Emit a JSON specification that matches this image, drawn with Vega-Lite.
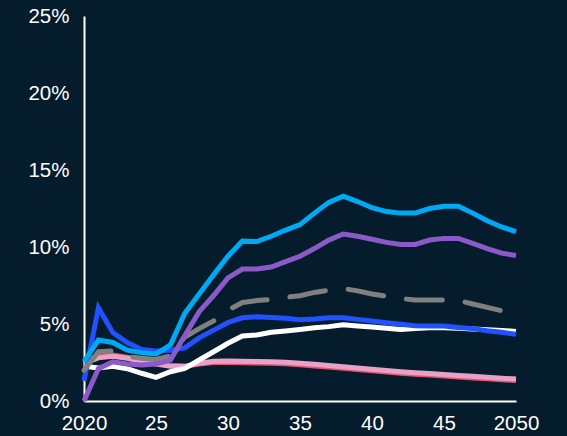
{
  "$schema": "https://vega.github.io/schema/vega-lite/v6.json",
  "autosize": "none",
  "width": 432,
  "height": 385,
  "padding": {"left": 84, "top": 16, "right": 51, "bottom": 35},
  "background": "#051c2c",
  "config": {
    "view": {"stroke": null},
    "axis": {
      "domainColor": "#ffffff",
      "domainWidth": 2,
      "ticks": false,
      "grid": false,
      "labelColor": "#ffffff",
      "labelFont": "Liberation Sans",
      "labelFontSize": 20.5,
      "labelFlush": false,
      "labelOverlap": false,
      "labelBound": false,
      "title": null
    }
  },
  "data": {
    "values": [
      {"series": "1red", "year": 2020, "value": 2.6}, {"series": "1red", "year": 2021, "value": 2.9}, {"series": "1red", "year": 2022, "value": 2.98}, {"series": "1red", "year": 2023, "value": 2.85}, {"series": "1red", "year": 2024, "value": 2.65}, {"series": "1red", "year": 2025, "value": 2.45}, {"series": "1red", "year": 2026, "value": 2.3}, {"series": "1red", "year": 2027, "value": 2.25}, {"series": "1red", "year": 2028, "value": 2.4}, {"series": "1red", "year": 2029, "value": 2.5}, {"series": "1red", "year": 2030, "value": 2.5}, {"series": "1red", "year": 2031, "value": 2.48}, {"series": "1red", "year": 2032, "value": 2.46}, {"series": "1red", "year": 2033, "value": 2.45}, {"series": "1red", "year": 2034, "value": 2.42}, {"series": "1red", "year": 2035, "value": 2.35}, {"series": "1red", "year": 2036, "value": 2.28}, {"series": "1red", "year": 2037, "value": 2.2}, {"series": "1red", "year": 2038, "value": 2.12}, {"series": "1red", "year": 2039, "value": 2.04}, {"series": "1red", "year": 2040, "value": 1.96}, {"series": "1red", "year": 2041, "value": 1.88}, {"series": "1red", "year": 2042, "value": 1.8}, {"series": "1red", "year": 2043, "value": 1.74}, {"series": "1red", "year": 2044, "value": 1.68}, {"series": "1red", "year": 2045, "value": 1.62}, {"series": "1red", "year": 2046, "value": 1.56}, {"series": "1red", "year": 2047, "value": 1.5}, {"series": "1red", "year": 2048, "value": 1.44}, {"series": "1red", "year": 2049, "value": 1.38}, {"series": "1red", "year": 2050, "value": 1.33},
      {"series": "2pink", "year": 2020, "value": 2.45}, {"series": "2pink", "year": 2021, "value": 2.8}, {"series": "2pink", "year": 2022, "value": 2.9}, {"series": "2pink", "year": 2023, "value": 2.78}, {"series": "2pink", "year": 2024, "value": 2.58}, {"series": "2pink", "year": 2025, "value": 2.4}, {"series": "2pink", "year": 2026, "value": 2.25}, {"series": "2pink", "year": 2027, "value": 2.25}, {"series": "2pink", "year": 2028, "value": 2.45}, {"series": "2pink", "year": 2029, "value": 2.58}, {"series": "2pink", "year": 2030, "value": 2.6}, {"series": "2pink", "year": 2031, "value": 2.58}, {"series": "2pink", "year": 2032, "value": 2.56}, {"series": "2pink", "year": 2033, "value": 2.55}, {"series": "2pink", "year": 2034, "value": 2.52}, {"series": "2pink", "year": 2035, "value": 2.45}, {"series": "2pink", "year": 2036, "value": 2.38}, {"series": "2pink", "year": 2037, "value": 2.3}, {"series": "2pink", "year": 2038, "value": 2.22}, {"series": "2pink", "year": 2039, "value": 2.14}, {"series": "2pink", "year": 2040, "value": 2.06}, {"series": "2pink", "year": 2041, "value": 1.98}, {"series": "2pink", "year": 2042, "value": 1.9}, {"series": "2pink", "year": 2043, "value": 1.84}, {"series": "2pink", "year": 2044, "value": 1.78}, {"series": "2pink", "year": 2045, "value": 1.72}, {"series": "2pink", "year": 2046, "value": 1.66}, {"series": "2pink", "year": 2047, "value": 1.6}, {"series": "2pink", "year": 2048, "value": 1.54}, {"series": "2pink", "year": 2049, "value": 1.48}, {"series": "2pink", "year": 2050, "value": 1.43},
      {"series": "3white", "year": 2020, "value": 2.25}, {"series": "3white", "year": 2021, "value": 2.15}, {"series": "3white", "year": 2022, "value": 2.25}, {"series": "3white", "year": 2023, "value": 2.1}, {"series": "3white", "year": 2024, "value": 1.8}, {"series": "3white", "year": 2025, "value": 1.54}, {"series": "3white", "year": 2026, "value": 1.9}, {"series": "3white", "year": 2027, "value": 2.12}, {"series": "3white", "year": 2028, "value": 2.66}, {"series": "3white", "year": 2029, "value": 3.2}, {"series": "3white", "year": 2030, "value": 3.75}, {"series": "3white", "year": 2031, "value": 4.22}, {"series": "3white", "year": 2032, "value": 4.29}, {"series": "3white", "year": 2033, "value": 4.46}, {"series": "3white", "year": 2034, "value": 4.55}, {"series": "3white", "year": 2035, "value": 4.65}, {"series": "3white", "year": 2036, "value": 4.75}, {"series": "3white", "year": 2037, "value": 4.83}, {"series": "3white", "year": 2038, "value": 4.95}, {"series": "3white", "year": 2039, "value": 4.87}, {"series": "3white", "year": 2040, "value": 4.8}, {"series": "3white", "year": 2041, "value": 4.72}, {"series": "3white", "year": 2042, "value": 4.65}, {"series": "3white", "year": 2043, "value": 4.7}, {"series": "3white", "year": 2044, "value": 4.75}, {"series": "3white", "year": 2045, "value": 4.75}, {"series": "3white", "year": 2046, "value": 4.72}, {"series": "3white", "year": 2047, "value": 4.68}, {"series": "3white", "year": 2048, "value": 4.63}, {"series": "3white", "year": 2049, "value": 4.58}, {"series": "3white", "year": 2050, "value": 4.52},
      {"series": "4blue", "year": 2020, "value": 1.3}, {"series": "4blue", "year": 2021, "value": 6.05}, {"series": "4blue", "year": 2022, "value": 4.45}, {"series": "4blue", "year": 2023, "value": 3.8}, {"series": "4blue", "year": 2024, "value": 3.35}, {"series": "4blue", "year": 2025, "value": 3.25}, {"series": "4blue", "year": 2026, "value": 3.3}, {"series": "4blue", "year": 2027, "value": 3.45}, {"series": "4blue", "year": 2028, "value": 4.1}, {"series": "4blue", "year": 2029, "value": 4.6}, {"series": "4blue", "year": 2030, "value": 5.1}, {"series": "4blue", "year": 2031, "value": 5.4}, {"series": "4blue", "year": 2032, "value": 5.47}, {"series": "4blue", "year": 2033, "value": 5.43}, {"series": "4blue", "year": 2034, "value": 5.37}, {"series": "4blue", "year": 2035, "value": 5.28}, {"series": "4blue", "year": 2036, "value": 5.32}, {"series": "4blue", "year": 2037, "value": 5.4}, {"series": "4blue", "year": 2038, "value": 5.4}, {"series": "4blue", "year": 2039, "value": 5.3}, {"series": "4blue", "year": 2040, "value": 5.2}, {"series": "4blue", "year": 2041, "value": 5.08}, {"series": "4blue", "year": 2042, "value": 4.98}, {"series": "4blue", "year": 2043, "value": 4.89}, {"series": "4blue", "year": 2044, "value": 4.87}, {"series": "4blue", "year": 2045, "value": 4.87}, {"series": "4blue", "year": 2046, "value": 4.78}, {"series": "4blue", "year": 2047, "value": 4.7}, {"series": "4blue", "year": 2048, "value": 4.56}, {"series": "4blue", "year": 2049, "value": 4.46}, {"series": "4blue", "year": 2050, "value": 4.33},
      {"series": "5grey", "year": 2020, "value": 2.0}, {"series": "5grey", "year": 2021, "value": 3.2}, {"series": "5grey", "year": 2022, "value": 3.25}, {"series": "5grey", "year": 2023, "value": 2.9}, {"series": "5grey", "year": 2024, "value": 2.77}, {"series": "5grey", "year": 2025, "value": 2.7}, {"series": "5grey", "year": 2026, "value": 2.92}, {"series": "5grey", "year": 2027, "value": 4.15}, {"series": "5grey", "year": 2028, "value": 4.7}, {"series": "5grey", "year": 2029, "value": 5.2}, {"series": "5grey", "year": 2030, "value": 5.9}, {"series": "5grey", "year": 2031, "value": 6.4}, {"series": "5grey", "year": 2032, "value": 6.52}, {"series": "5grey", "year": 2033, "value": 6.6}, {"series": "5grey", "year": 2034, "value": 6.73}, {"series": "5grey", "year": 2035, "value": 6.84}, {"series": "5grey", "year": 2036, "value": 7.05}, {"series": "5grey", "year": 2037, "value": 7.2}, {"series": "5grey", "year": 2038, "value": 7.3}, {"series": "5grey", "year": 2039, "value": 7.15}, {"series": "5grey", "year": 2040, "value": 6.95}, {"series": "5grey", "year": 2041, "value": 6.8}, {"series": "5grey", "year": 2042, "value": 6.65}, {"series": "5grey", "year": 2043, "value": 6.56}, {"series": "5grey", "year": 2044, "value": 6.56}, {"series": "5grey", "year": 2045, "value": 6.56}, {"series": "5grey", "year": 2046, "value": 6.52}, {"series": "5grey", "year": 2047, "value": 6.3}, {"series": "5grey", "year": 2048, "value": 6.08}, {"series": "5grey", "year": 2049, "value": 5.86}, {"series": "5grey", "year": 2050, "value": 5.7},
      {"series": "6purple", "year": 2020, "value": 0}, {"series": "6purple", "year": 2021, "value": 2.1}, {"series": "6purple", "year": 2022, "value": 2.55}, {"series": "6purple", "year": 2023, "value": 2.4}, {"series": "6purple", "year": 2024, "value": 2.34}, {"series": "6purple", "year": 2025, "value": 2.4}, {"series": "6purple", "year": 2026, "value": 2.66}, {"series": "6purple", "year": 2027, "value": 4.25}, {"series": "6purple", "year": 2028, "value": 5.8}, {"series": "6purple", "year": 2029, "value": 6.85}, {"series": "6purple", "year": 2030, "value": 8.0}, {"series": "6purple", "year": 2031, "value": 8.57}, {"series": "6purple", "year": 2032, "value": 8.57}, {"series": "6purple", "year": 2033, "value": 8.7}, {"series": "6purple", "year": 2034, "value": 9.05}, {"series": "6purple", "year": 2035, "value": 9.4}, {"series": "6purple", "year": 2036, "value": 9.9}, {"series": "6purple", "year": 2037, "value": 10.45}, {"series": "6purple", "year": 2038, "value": 10.84}, {"series": "6purple", "year": 2039, "value": 10.7}, {"series": "6purple", "year": 2040, "value": 10.5}, {"series": "6purple", "year": 2041, "value": 10.3}, {"series": "6purple", "year": 2042, "value": 10.17}, {"series": "6purple", "year": 2043, "value": 10.17}, {"series": "6purple", "year": 2044, "value": 10.45}, {"series": "6purple", "year": 2045, "value": 10.56}, {"series": "6purple", "year": 2046, "value": 10.56}, {"series": "6purple", "year": 2047, "value": 10.24}, {"series": "6purple", "year": 2048, "value": 9.9}, {"series": "6purple", "year": 2049, "value": 9.6}, {"series": "6purple", "year": 2050, "value": 9.45},
      {"series": "7cyan", "year": 2020, "value": 2.55}, {"series": "7cyan", "year": 2021, "value": 3.96}, {"series": "7cyan", "year": 2022, "value": 3.8}, {"series": "7cyan", "year": 2023, "value": 3.3}, {"series": "7cyan", "year": 2024, "value": 3.14}, {"series": "7cyan", "year": 2025, "value": 3.05}, {"series": "7cyan", "year": 2026, "value": 3.64}, {"series": "7cyan", "year": 2027, "value": 5.7}, {"series": "7cyan", "year": 2028, "value": 6.95}, {"series": "7cyan", "year": 2029, "value": 8.2}, {"series": "7cyan", "year": 2030, "value": 9.4}, {"series": "7cyan", "year": 2031, "value": 10.38}, {"series": "7cyan", "year": 2032, "value": 10.35}, {"series": "7cyan", "year": 2033, "value": 10.7}, {"series": "7cyan", "year": 2034, "value": 11.1}, {"series": "7cyan", "year": 2035, "value": 11.45}, {"series": "7cyan", "year": 2036, "value": 12.2}, {"series": "7cyan", "year": 2037, "value": 12.9}, {"series": "7cyan", "year": 2038, "value": 13.3}, {"series": "7cyan", "year": 2039, "value": 12.95}, {"series": "7cyan", "year": 2040, "value": 12.55}, {"series": "7cyan", "year": 2041, "value": 12.3}, {"series": "7cyan", "year": 2042, "value": 12.2}, {"series": "7cyan", "year": 2043, "value": 12.2}, {"series": "7cyan", "year": 2044, "value": 12.5}, {"series": "7cyan", "year": 2045, "value": 12.65}, {"series": "7cyan", "year": 2046, "value": 12.65}, {"series": "7cyan", "year": 2047, "value": 12.2}, {"series": "7cyan", "year": 2048, "value": 11.7}, {"series": "7cyan", "year": 2049, "value": 11.3}, {"series": "7cyan", "year": 2050, "value": 11.0}
    ]
  },
  "encoding": {
    "x": {
      "field": "year",
      "type": "quantitative",
      "scale": {"domain": [2020, 2050], "nice": false, "zero": false},
      "axis": {
        "values": [2020, 2025, 2030, 2035, 2040, 2045, 2050],
        "labelPadding": 12,
        "labelExpr": "datum.value == 2020 || datum.value == 2050 ? '' + datum.value : substring('' + datum.value, 2)"
      }
    },
    "y": {
      "field": "value",
      "type": "quantitative",
      "scale": {"domain": [0, 25], "nice": false},
      "axis": {
        "values": [0, 5, 10, 15, 20, 25],
        "labelPadding": 15,
        "labelExpr": "datum.value + '%'"
      }
    },
    "color": {
      "field": "series",
      "type": "nominal",
      "legend": null,
      "scale": {
        "domain": ["1red", "2pink", "3white", "4blue", "5grey", "6purple", "7cyan"],
        "range": ["#e5546c", "#e8a2c8", "#ffffff", "#2251ff", "#808080", "#8c5ac8", "#00a9f4"]
      }
    }
  },
  "layer": [
    {
      "transform": [{"filter": {"field": "series", "oneOf": ["1red", "2pink", "3white", "4blue"]}}],
      "mark": {"type": "line", "strokeWidth": 5}
    },
    {
      "transform": [{"filter": {"field": "series", "equal": "5grey"}}],
      "mark": {"type": "line", "strokeWidth": 5, "strokeDash": [36, 23], "strokeCap": "round"}
    },
    {
      "transform": [{"filter": {"field": "series", "oneOf": ["6purple", "7cyan"]}}],
      "mark": {"type": "line", "strokeWidth": 5}
    }
  ]
}
